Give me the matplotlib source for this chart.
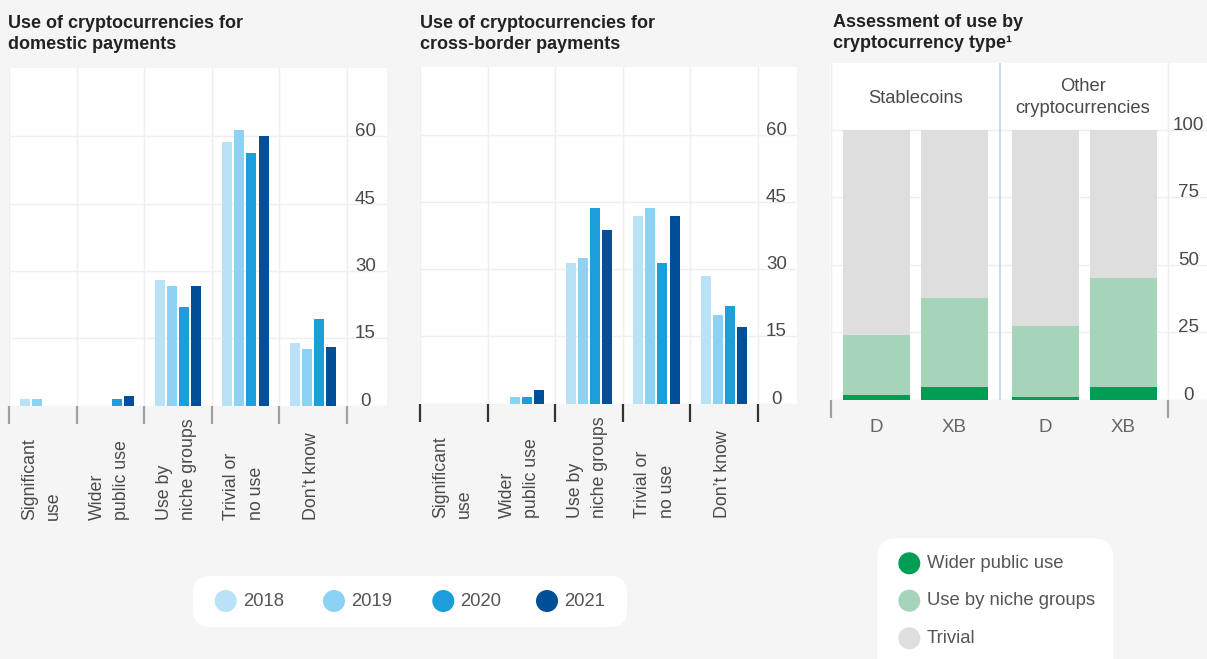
import numpy as np
import matplotlib
matplotlib.use('Agg')
from matplotlib import pyplot as plt
from matplotlib.patches import FancyBboxPatch, Circle
from matplotlib.transforms import blended_transform_factory

plt.rcParams['font.family'] = ['Liberation Sans', 'DejaVu Sans']

# --- data (per cent of respondents) ---
categories = ['Significant\nuse', 'Wider\npublic use', 'Use by\nniche groups',
              'Trivial or\nno use', 'Don’t know']
years = ['2018', '2019', '2020', '2021']

domestic_2018 = [1.5, 0.0, 28.0, 58.7, 14.0]
domestic_2019 = [1.5, 0.0, 26.7, 61.4, 12.6]
domestic_2020 = [0.0, 1.5, 22.0, 56.3, 19.3]
domestic_2021 = [0.0, 2.2, 26.7, 60.1, 13.1]

cross_2018 = [0.0, 0.0, 31.4, 41.9, 28.5]
cross_2019 = [0.0, 1.5, 32.5, 43.6, 19.8]
cross_2020 = [0.0, 1.5, 43.6, 31.4, 21.8]
cross_2021 = [0.0, 3.0, 38.7, 41.9, 17.1]

year_ticks = [0, 15, 30, 45, 60]

coin_groups = ['Stablecoins', 'Other\ncryptocurrencies']
coin_bars = ['D', 'XB', 'D', 'XB']
wider_use = [1.7, 4.7, 1.0, 4.7]
niche_use = [22.3, 33.0, 26.3, 40.4]
trivial_use = [76.0, 62.3, 72.7, 54.9]
coin_ticks = [0, 25, 50, 75, 100]

# --- styling ---
year_colors = ['#b9e2f7', '#8bd2f4', '#1b9ed9', '#004f98']
green_dark = '#009d55'
green_light = '#a6d4bb'
grey_light = '#dedede'
bg_col = '#f5f5f5'
grid_col = '#efefef'
text_col = '#4a4a4a'

W, H = 1207, 659
fig = plt.figure(figsize=(W / 100, H / 100), dpi=100, facecolor=bg_col)

# overlay in pixel coordinates for titles and legends
bg = fig.add_axes([0, 0, 1, 1])
bg.set_xlim(0, W)
bg.set_ylim(H, 0)
bg.axis('off')
bg.patch.set_alpha(0)


def px_axes(left, top, right, bottom):
    return fig.add_axes([left / W, 1 - bottom / H, (right - left) / W, (bottom - top) / H])


def year_panel(ax, series, ymax, xmax, tick_col):
    x = np.arange(len(categories))
    for i, vals in enumerate(series):
        ax.bar(x + (i - 1.5) * 0.18, vals, width=0.148, color=year_colors[i], zorder=3)
    seps = np.arange(len(categories) + 1) - 0.5
    ax.set_xlim(-0.5, xmax)
    ax.set_ylim(0, ymax)
    ax.set_xticks(seps)
    ax.set_yticks(year_ticks)
    ax.grid(True, color=grid_col, lw=1)
    ax.set_axisbelow(True)
    ax.tick_params(axis='x', length=13, width=1.6, color=tick_col, labelbottom=False)
    ax.tick_params(axis='y', length=0, labelleft=False)
    for s in ax.spines.values():
        s.set_visible(False)
    for t in year_ticks:
        ax.text(4.78, t, str(t), ha='center', va='baseline', fontsize=13.5, color=text_col)
    tr = blended_transform_factory(ax.transData, ax.transAxes)
    for xi, lab in zip(x, categories):
        ax.text(xi - 0.02, -0.34, lab, rotation=90, ha='center', va='bottom',
                multialignment='left', fontsize=12.8, color=text_col, linespacing=1.55,
                transform=tr)


ax1 = px_axes(9.3, 68.3, 387, 405.7)
year_panel(ax1, [domestic_2018, domestic_2019, domestic_2020, domestic_2021], 75.2, 5.1, '#a0a0a0')

ax2 = px_axes(420, 66.7, 796.7, 403.7)
year_panel(ax2, [cross_2018, cross_2019, cross_2020, cross_2021], 75.2, 5.08, '#333333')

# --- stacked panel ---
ax3 = px_axes(830, 63.3, 1207, 399.7)
xpos = np.array([0, 1, 2.17, 3.17])
ax3.bar(xpos, wider_use, width=0.863, color=green_dark, zorder=3)
ax3.bar(xpos, niche_use, width=0.863, bottom=wider_use, color=green_light, zorder=3)
ax3.bar(xpos, trivial_use, width=0.863, bottom=np.add(wider_use, niche_use),
        color=grey_light, zorder=3)
ax3.set_xlim(-0.594, 4.24)
ax3.set_ylim(0, 124.7)
ax3.set_xticks([-0.58, 3.74])
ax3.set_yticks(coin_ticks)
ax3.grid(True, color=grid_col, lw=1)
ax3.set_axisbelow(True)
ax3.axvline(1.59, color='#bcd3e8', lw=1.2, zorder=2)
ax3.tick_params(axis='x', length=13, width=1.6, color='#a0a0a0', labelbottom=False)
ax3.tick_params(axis='y', length=0, labelleft=False)
for s in ax3.spines.values():
    s.set_visible(False)
for t in coin_ticks:
    ax3.text(4.0, t, str(t), ha='center', va='baseline', fontsize=13.5, color=text_col)
tr3 = blended_transform_factory(ax3.transData, ax3.transAxes)
for xi, lab in zip(xpos, coin_bars):
    ax3.text(xi, -0.083, lab, ha='center', va='center', fontsize=13.5, color='#666666',
             transform=tr3)
ax3.text(0.51, 111.6, coin_groups[0], ha='center', va='center', fontsize=13.2, color=text_col)
ax3.text(2.65, 112.0, coin_groups[1], ha='center', va='center', fontsize=13.2,
         color=text_col, linespacing=1.4)

# --- titles ---
title_kw = dict(ha='left', va='top', fontsize=13, fontweight='bold', color='#222222',
                linespacing=1.3)
bg.text(8, 15, 'Use of cryptocurrencies for\ndomestic payments', **title_kw)
bg.text(420, 15, 'Use of cryptocurrencies for\ncross-border payments', **title_kw)
bg.text(833, 14, 'Assessment of use by\ncryptocurrency type¹', **title_kw)

# --- legends ---
bg.add_patch(FancyBboxPatch((193, 576), 434, 51, boxstyle='round,pad=0,rounding_size=17',
                            fc='white', ec='none'))
leg_x = [225.7, 334, 443.3, 547]
for cx, col, yr in zip(leg_x, year_colors, years):
    bg.add_patch(Circle((cx, 601), 11, fc=col, ec='none'))
    bg.text(cx + 17, 601, yr, ha='left', va='center', fontsize=13.3, color='#555555')

bg.add_patch(FancyBboxPatch((877.3, 538.3), 236, 150, boxstyle='round,pad=0,rounding_size=20',
                            fc='white', ec='none'))
leg2_labels = ['Wider public use', 'Use by niche groups', 'Trivial']
leg2_colors = [green_dark, green_light, grey_light]
for cy, col, lab in zip([563.3, 600.7, 638.3], leg2_colors, leg2_labels):
    bg.add_patch(Circle((909.3, cy), 11, fc=col, ec='none'))
    bg.text(926.7, cy, lab, ha='left', va='center', fontsize=13.3, color='#555555')

fig.savefig('out.png', dpi=100, facecolor=bg_col)
